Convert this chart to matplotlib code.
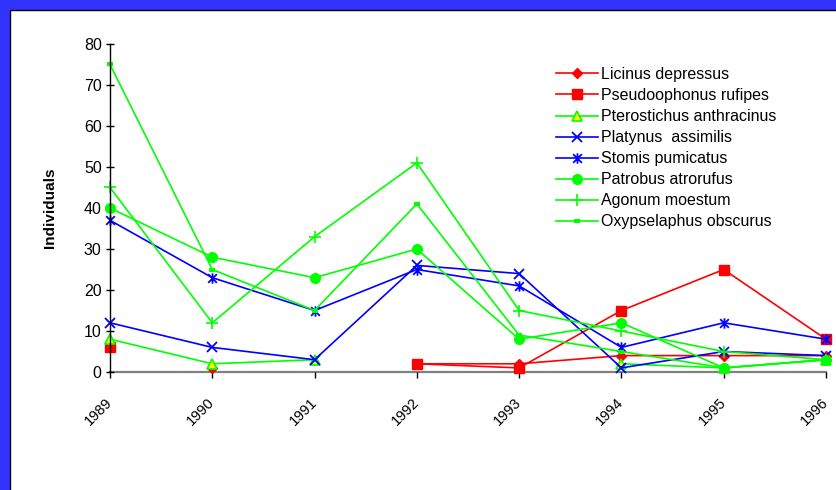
import matplotlib
matplotlib.use("Agg")
import matplotlib.pyplot as plt
from matplotlib.path import Path
from matplotlib.patches import Rectangle
import numpy as np

plt.rcParams['font.family'] = ['Liberation Sans', 'DejaVu Sans']

years = ['1989', '1990', '1991', '1992', '1993', '1994', '1995', '1996']
nan = np.nan

licinus = [nan, 1, nan, 2, 2, 4, 4, 4]
pseudoophonus = [6, nan, nan, 2, 1, 15, 25, 8]
pterostichus = [8, 2, 3, nan, nan, 2, 1, 3]
platynus = [12, 6, 3, 26, 24, 1, 5, 4]
stomis = [37, 23, 15, 25, 21, 6, 12, 8]
patrobus = [40, 28, 23, 30, 8, 12, 1, 3]
agonum = [45, 12, 33, 51, 15, 10, 5, 3]
oxypselaphus = [75, 25, 15, 41, 9, 5, 1, 3]

# excel style asterisk: an X with a vertical bar through it
asterisk = Path([(-1, -1), (1, 1), (-1, 1), (1, -1), (0, -1.2), (0, 1.2)],
                [Path.MOVETO, Path.LINETO, Path.MOVETO, Path.LINETO,
                 Path.MOVETO, Path.LINETO])

red, green, blue = '#FF0000', '#00FF00', '#0000FF'

series = [
    ("Licinus depressus", licinus, dict(color=red, marker='D', ms=5.5, mfc=red, mec=red)),
    ("Pseudoophonus rufipes", pseudoophonus, dict(color=red, marker='s', ms=6.5, mfc=red, mec=red)),
    ("Pterostichus anthracinus", pterostichus, dict(color=green, marker='^', ms=7, mfc='#FFFF00', mec=green, mew=1.2)),
    ("Platynus  assimilis", platynus, dict(color=blue, marker='x', ms=7.5, mec=blue, mew=1.3)),
    ("Stomis pumicatus", stomis, dict(color=blue, marker=asterisk, ms=7.5, mfc='none', mec=blue, mew=1.3)),
    ("Patrobus atrorufus", patrobus, dict(color=green, marker='o', ms=7, mfc=green, mec=green)),
    ("Agonum moestum", agonum, dict(color=green, marker='+', ms=8, mec=green, mew=1.2)),
    ("Oxypselaphus obscurus", oxypselaphus, dict(color=green, marker='_', ms=5, mec=green, mew=3)),
]

fig = plt.figure(figsize=(8.36, 4.9), dpi=100, facecolor='#3333FF')
fig.patches.append(Rectangle((9.5 / 836, -0.01), 1.0, (490 - 10) / 490 + 0.01,
                             transform=fig.transFigure, facecolor='white',
                             edgecolor='black', linewidth=1, zorder=-5))

ax = fig.add_axes([110 / 836, 1 - 372 / 490, 716 / 836, 328 / 490])
ax.set_facecolor('none')

x = np.arange(len(years))
for name, vals, style in series:
    ax.plot(x, vals, label=name, lw=1.2, clip_on=False, **style)

ax.set_xlim(0, len(years) - 1)
ax.set_ylim(0, 80)
ax.set_yticks(range(0, 81, 10))
ax.set_xticks(x)
ax.set_xticklabels(years, rotation=45, ha='right', va='center', rotation_mode='anchor')

for s in ['top', 'right']:
    ax.spines[s].set_visible(False)
ax.spines['left'].set_color('black')
ax.spines['left'].set_linewidth(1)
ax.spines['bottom'].set_color('#808080')
ax.spines['bottom'].set_linewidth(1.6)
ax.spines['bottom'].set_zorder(0.5)

ax.tick_params(axis='y', direction='inout', length=6, width=1, labelsize=11.5, pad=3)
ax.tick_params(axis='x', direction='out', length=4, width=1, labelsize=10.5, pad=16)

ax.set_ylabel("Individuals", fontsize=11, fontweight='bold')
ax.yaxis.set_label_coords(-0.074, 0.5)

ax.legend(loc='upper left', bbox_to_anchor=(556 / 836, 1 - 67 / 490),
          bbox_transform=fig.transFigure, frameon=False, fontsize=11.5,
          handlelength=2.6, handletextpad=0.2, labelspacing=0.38,
          borderpad=0, borderaxespad=0)

fig.savefig("out.png", dpi=100, facecolor=fig.get_facecolor())
